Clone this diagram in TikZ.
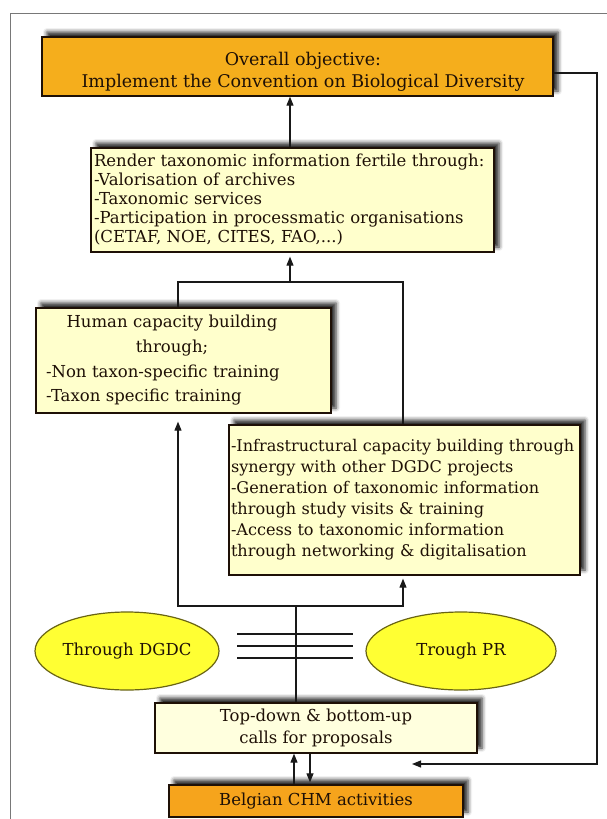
\documentclass[tikz,border=0pt]{standalone}
\usepackage{fontspec}
\setmainfont{DejaVu Serif}
\usetikzlibrary{arrows.meta,shapes.geometric,shadows.blur}

\definecolor{goldfill}{RGB}{245,174,28}
\definecolor{chmfill}{RGB}{246,164,28}
\definecolor{paleyellow}{RGB}{255,255,204}
\definecolor{callsfill}{RGB}{255,255,222}
\definecolor{ovalfill}{RGB}{255,255,51}
\definecolor{ovaledge}{RGB}{105,100,20}
\definecolor{inkbrown}{RGB}{30,16,6}
\definecolor{framegray}{RGB}{120,120,120}
\definecolor{wire}{RGB}{25,25,25}

\begin{document}
\begin{tikzpicture}[x=1pt,y=-1pt,
  box/.style={draw=inkbrown, line width=1.3pt, rectangle, inner ysep=0pt,
    text=inkbrown,
    blur shadow={shadow xshift=5pt, shadow yshift=5pt,
      shadow blur radius=4pt, shadow opacity=85}},
  oval/.style={ellipse, draw=ovaledge, line width=1.2pt, fill=ovalfill,
    text=inkbrown, inner sep=0pt},
  label/.style={text=inkbrown, inner sep=0pt},
  txt/.style={font=\fontsize{16.5}{19}\selectfont},
  wireline/.style={draw=wire, line width=1.1pt},
  arr/.style={wireline, -{Triangle[length=9pt,width=7pt]}}]

\useasboundingbox (0,0) rectangle (607,819);

% page frame
\draw[framegray, line width=1pt] (10,819) -- (10,13) -- (607,13);

% boxes
\node[box, fill=goldfill, minimum width=511pt, minimum height=59pt] (top)
  at (297.5,66.5) {};
\node[label, align=center, font=\fontsize{17.5}{22}\selectfont] (toptext)
  at (303,72) {Overall objective:\\Implement the Convention on Biological Diversity};

\node[box, fill=paleyellow, minimum width=403pt, minimum height=104pt,
  inner xsep=3pt, text width=397pt, align=left, txt] (render) at (292.5,200)
  {Render taxonomic information fertile through:\\
   -Valorisation of archives\\
   -Taxonomic services\\
   -Participation in processmatic organisations\\
   (CETAF, NOE, CITES, FAO,...)};

\node[box, fill=paleyellow, minimum width=295pt, minimum height=105pt,
  inner xsep=10pt, text width=275pt, align=left,
  font=\fontsize{16.5}{24.7}\selectfont] (human) at (183.5,360.5)
  {\makebox[252pt]{Human capacity building}\\
   \makebox[252pt]{through;}\\
   -Non taxon-specific training\\
   -Taxon specific training};

\node[box, fill=paleyellow, minimum width=351pt, minimum height=150pt,
  inner xsep=2pt, text width=347pt, align=left,
  font=\fontsize{16.1}{21}\selectfont] (infra) at (404.5,500)
  {\makebox[347pt][l]{-Infrastructural capacity building through}\\
   synergy with other DGDC projects\\
   -Generation of taxonomic information\\
   through study visits \& training\\
   -Access to taxonomic information\\
   through networking \& digitalisation};

\node[oval, minimum width=184pt, minimum height=78pt, txt] (dgdc) at (127,651)
  {Through DGDC};
\node[oval, minimum width=190pt, minimum height=78pt, txt] (pr) at (461,651)
  {Trough PR};

\node[box, fill=callsfill, minimum width=322pt, minimum height=50pt,
  align=center, font=\fontsize{16.5}{22}\selectfont] (calls) at (316,728)
  {Top-down \& bottom-up\\calls for proposals};

\node[box, fill=chmfill, minimum width=294pt, minimum height=32pt,
  align=center, txt] (chm) at (316,801) {Belgian CHM activities};

% junction points of the connectors
\coordinate (jtop) at (290,282);
\coordinate (jleft) at (178,0);
\coordinate (jright) at (403,0);
\coordinate (jlow) at (296,606);
\coordinate (fbout) at (597,73);
\coordinate (fbin) at (412,764);

% upward flow
\draw[arr] (jtop |- render.north) -- (jtop |- top.south);
\draw[arr, shorten >=4pt] (jtop) -- (jtop |- render.south);
\draw[wireline] (jleft |- human.north) -- (jleft |- jtop) -- (jright |- jtop)
  -- (jright |- infra.north);
\draw[arr, shorten >=8pt] (jlow) -- (jleft |- jlow) -- (jleft |- human.south);
\draw[arr, shorten >=3pt] (jlow) -- (jright |- jlow) -- (jright |- infra.south);
\draw[wireline] (jlow) -- (jlow |- calls.north);

% parallel bars between the two funding channels
\draw[wireline] (237,634) -- (353,634);
\draw[wireline] (237,646) -- (353,646);
\draw[wireline] (237,658) -- (353,658);

% feedback from the objective back to the calls
\draw[arr] (top.east |- fbout) -- (fbout) -- (fbout |- fbin) -- (fbin);

% exchange between calls and CHM activities
\draw[arr] ([xshift=-22pt]chm.north) -- ([xshift=-22pt]calls.south);
\draw[arr, shorten >=2pt] ([xshift=-6pt]calls.south) -- ([xshift=-6pt]chm.north);

\end{tikzpicture}
\end{document}
